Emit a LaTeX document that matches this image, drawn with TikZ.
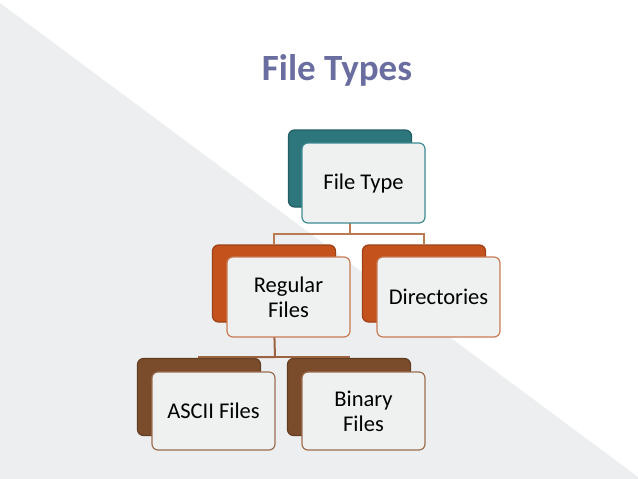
\documentclass[tikz,border=0pt]{standalone}
\usepackage{fontspec}
\setmainfont{Carlito}
\usepackage{tikz}
\definecolor{teal1}{HTML}{2c767c}
\definecolor{teal2}{HTML}{3f8c92}
\definecolor{orange1}{HTML}{c4521d}
\definecolor{orange2}{HTML}{c97a55}
\definecolor{brown1}{HTML}{7b4c2b}
\definecolor{brown2}{HTML}{9c6e50}
\definecolor{link1}{HTML}{bb7a50}
\definecolor{link2}{HTML}{9c6242}
\definecolor{titlec}{HTML}{6a6d9f}
\definecolor{paper}{HTML}{edeeef}
\definecolor{cardc}{HTML}{eff1f1}
\tikzset{
  backbox/.style={draw=#1!80!black, line width=1.2pt, fill=#1, rounded corners=6pt,
    minimum width=123pt, minimum height=77pt},
  frontbox/.style={draw=#1, line width=1.2pt, fill=cardc, rounded corners=6pt,
    minimum width=123pt, minimum height=80pt, align=center,
    font=\fontsize{22.5}{25}\selectfont},
  link/.style={draw=#1, line width=2pt}
}

\begin{document}
\begin{tikzpicture}[x=1pt, y=-1pt]
\useasboundingbox (0,0) rectangle (638,479);
% background
\fill[white] (0,0) rectangle (638,479);
\fill[paper] (0,3) -- (638,477) -- (638,479) -- (0,479) -- cycle;

% title
\node[text=titlec, font=\fontsize{37}{40}\selectfont\bfseries] (title) at (337,70) {File Types};

% back cards
\node[backbox=teal1] (ftb) at (350,168.5) {};
\node[backbox=orange1] (rfb) at (274,283.5) {};
\node[backbox=orange1] (dirb) at (424,283.5) {};
\node[backbox=brown1] (ascb) at (199,397) {};
\node[backbox=brown1] (binb) at (349,397) {};

% connectors
\coordinate (j1) at (350,234);
\coordinate (j2) at (275,357);
\draw[link=link1] (ftb.south) -- (j1) -| (rfb.north);
\draw[link=link1] (j1) -| (dirb.north);
\draw[link=link2] (rfb.south) -- (j2) -| (ascb.north);
\draw[link=link2] (j2) -| (binb.north);

% front cards
\node[frontbox=teal2] (ft) at (363.5,183) {File Type};
\node[frontbox=orange2] (rf) at (288.5,297) {Regular\\Files};
\node[frontbox=orange2] (dir) at (438.5,297) {Directories};
\node[frontbox=brown2, minimum height=78pt] (asc) at (213.5,411) {ASCII Files};
\node[frontbox=brown2, minimum height=78pt] (bin) at (363.5,411) {Binary\\Files};
\end{tikzpicture}
\end{document}
